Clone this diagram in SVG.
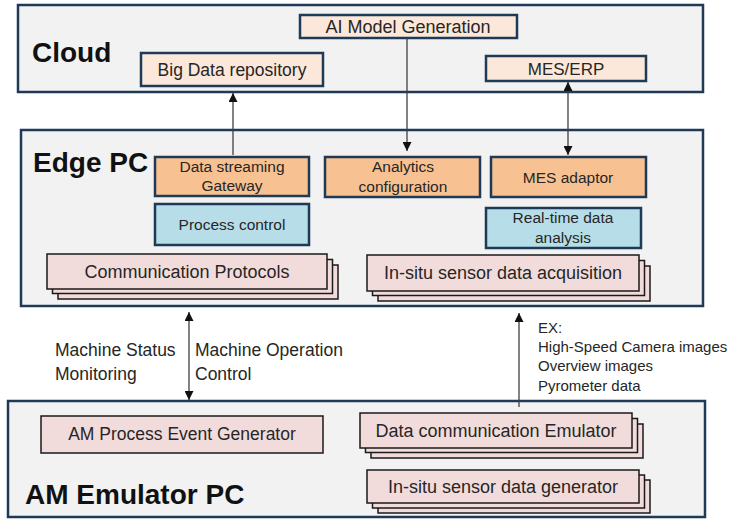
<svg xmlns="http://www.w3.org/2000/svg" width="730" height="522" viewBox="0 0 730 522">
<defs>
<style>
.panel{fill:#f2f2f2;stroke:#1f3a56;stroke-width:2.5}
.peach{fill:#fce8da;stroke:#1f3a56;stroke-width:2.5}
.orange{fill:#f8c191;stroke:#1f3a56;stroke-width:2.5}
.blue{fill:#b7dee8;stroke:#1f3a56;stroke-width:2.5}
.pink{fill:#f2dcdb;stroke:#1a1a1a;stroke-width:1.5}
.title{font-family:"Liberation Sans",Arial,sans-serif;font-weight:bold;font-size:28px;fill:#111}
.t{font-family:"Liberation Sans",Arial,sans-serif;fill:#262626;text-anchor:middle}
.lbl{font-family:"Liberation Sans",Arial,sans-serif;fill:#262626}
.conn{stroke:#404040;stroke-width:1.3;fill:none}
</style>
<marker id="ah" viewBox="0 0 10 10" refX="10" refY="5" markerWidth="9" markerHeight="9" markerUnits="userSpaceOnUse" orient="auto-start-reverse">
<path d="M0,0 L10,5 L0,10 z" fill="#111"/>
</marker>
</defs>

<g id="cloud">
<rect class="panel" x="18" y="5" width="685" height="87"/>
<text class="title" x="32" y="62">Cloud</text>
</g>
<g id="ai-model">
<rect class="peach" x="300" y="15" width="217" height="23"/>
<text class="t" x="408" y="33" font-size="18">AI Model Generation</text>
</g>
<g id="big-data">
<rect class="peach" x="141" y="53" width="182" height="33"/>
<text class="t" x="232" y="76" font-size="17.5">Big Data repository</text>
</g>
<g id="mes-erp">
<rect class="peach" x="486" y="56" width="160" height="25"/>
<text class="t" x="566" y="75" font-size="17">MES/ERP</text>
</g>

<g id="edge-pc">
<rect class="panel" x="21" y="130" width="682" height="176"/>
<text class="title" x="33" y="172">Edge PC</text>
</g>
<g id="data-streaming">
<rect class="orange" x="155" y="157" width="154" height="39"/>
<text class="t" x="232" y="172" font-size="15.5">Data streaming</text>
<text class="t" x="232" y="191" font-size="15.5">Gateway</text>
</g>
<g id="analytics">
<rect class="orange" x="325" y="157" width="155" height="40"/>
<text class="t" x="403" y="172" font-size="15.5">Analytics</text>
<text class="t" x="403" y="192" font-size="15.5">configuration</text>
</g>
<g id="mes-adaptor">
<rect class="orange" x="491" y="157" width="155" height="40"/>
<text class="t" x="568" y="183" font-size="15.5">MES adaptor</text>
</g>
<g id="process-control">
<rect class="blue" x="155" y="204" width="154" height="41"/>
<text class="t" x="232" y="230" font-size="15.5">Process control</text>
</g>
<g id="realtime">
<rect class="blue" x="486" y="208" width="155" height="40"/>
<text class="t" x="563" y="223" font-size="15.5">Real-time data</text>
<text class="t" x="563" y="243" font-size="15.5">analysis</text>
</g>
<g id="comm-protocols">
<rect class="pink" x="58" y="265" width="280" height="34"/>
<rect class="pink" x="52.5" y="259.5" width="280" height="34"/>
<rect class="pink" x="47" y="254" width="280" height="35"/>
<text class="t" x="187" y="278" font-size="18">Communication Protocols</text>
</g>
<g id="insitu-acq">
<rect class="pink" x="378" y="266" width="272" height="35"/>
<rect class="pink" x="372.5" y="260.5" width="272" height="35"/>
<rect class="pink" x="367" y="255" width="272" height="36"/>
<text class="t" x="503" y="279" font-size="18">In-situ sensor data acquisition</text>
</g>

<g id="am-emulator">
<rect class="panel" x="8" y="401" width="697" height="116" stroke-width="2"/>
<text class="title" x="25" y="504">AM Emulator PC</text>
</g>
<g id="am-event">
<rect class="pink" x="41" y="416" width="282" height="37"/>
<text class="t" x="182" y="440" font-size="17.5">AM Process Event Generator</text>
</g>
<g id="data-comm-emu">
<rect class="pink" x="371" y="424" width="272" height="34"/>
<rect class="pink" x="365.5" y="418.5" width="272" height="34"/>
<rect class="pink" x="360" y="413" width="272" height="35"/>
<text class="t" x="496" y="437" font-size="18">Data communication Emulator</text>
</g>
<g id="insitu-gen">
<rect class="pink" x="378" y="480" width="272" height="33"/>
<rect class="pink" x="372.5" y="475" width="272" height="33"/>
<rect class="pink" x="367" y="470" width="272" height="33"/>
<text class="t" x="503" y="493" font-size="18">In-situ sensor data generator</text>
</g>

<g id="connectors">
<line class="conn" x1="233" y1="155" x2="233" y2="93" marker-end="url(#ah)"/>
<line class="conn" x1="407" y1="38" x2="407" y2="151" marker-end="url(#ah)"/>
<line class="conn" x1="568" y1="82" x2="568" y2="155" marker-start="url(#ah)" marker-end="url(#ah)"/>
<line class="conn" x1="189" y1="312" x2="189" y2="400" marker-start="url(#ah)" marker-end="url(#ah)"/>
<line class="conn" x1="519" y1="407" x2="519" y2="313" marker-end="url(#ah)" stroke="#666"/>
</g>

<g id="labels">
<text class="lbl" x="55" y="356" font-size="17.5">Machine Status</text>
<text class="lbl" x="55" y="380" font-size="17.5">Monitoring</text>
<text class="lbl" x="195" y="356" font-size="17.5">Machine Operation</text>
<text class="lbl" x="195" y="380" font-size="17.5">Control</text>
<text class="lbl" x="538" y="333" font-size="15">EX:</text>
<text class="lbl" x="538" y="352" font-size="15">High-Speed Camera images</text>
<text class="lbl" x="538" y="371" font-size="15">Overview images</text>
<text class="lbl" x="538" y="391" font-size="15">Pyrometer data</text>
</g>
</svg>
